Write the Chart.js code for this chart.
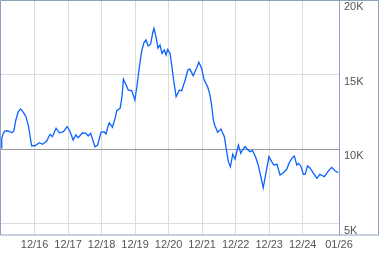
<!DOCTYPE html>
<html>
<head>
<meta charset="utf-8">
<script src="https://cdn.jsdelivr.net/npm/chart.js@4"></script>
<style>
html,body{margin:0;padding:0;background:#fff;}
#wrap{width:379px;height:255px;position:relative;}
</style>
</head>
<body>
<div id="wrap"><canvas id="c" width="379" height="255"></canvas></div>
<script>
// Time as decimal years (Dec 2015 .. Jan 2026)
const years = [
2015.92,2015.94,2015.99,2016.04,2016.13,2016.24,2016.30,2016.36,2016.43,2016.50,
2016.58,2016.66,2016.73,2016.78,2016.83,2016.93,2017.06,2017.16,2017.28,2017.38,
2017.45,2017.56,2017.66,2017.78,2017.89,2017.97,2018.07,2018.15,2018.22,2018.35,
2018.45,2018.52,2018.59,2018.72,2018.80,2018.90,2018.99,2019.05,2019.11,2019.15,
2019.24,2019.32,2019.37,2019.47,2019.52,2019.57,2019.65,2019.71,2019.82,2019.86,
2019.91,2019.97,2020.04,2020.11,2020.18,2020.24,2020.31,2020.38,2020.44,2020.48,
2020.54,2020.60,2020.66,2020.72,2020.79,2020.84,2020.89,2020.96,2021.01,2021.06,
2021.14,2021.24,2021.31,2021.41,2021.49,2021.55,2021.65,2021.75,2021.82,2021.90,
2021.98,2022.08,2022.15,2022.20,2022.25,2022.30,2022.38,2022.48,2022.58,2022.65,
2022.70,2022.76,2022.83,2022.90,2023.00,2023.07,2023.12,2023.20,2023.26,2023.34,
2023.42,2023.51,2023.59,2023.67,2023.74,2023.81,2023.91,2023.99,2024.06,2024.15,
2024.24,2024.34,2024.44,2024.52,2024.61,2024.67,2024.74,2024.79,2024.86,2024.94,
2024.99,2025.06,2025.14,2025.24,2025.34,2025.43,2025.56,2025.68,2025.78,2025.88,
2025.98
];
const values = [
10070,10740,11070,11210,11210,11090,11210,11950,12500,12690,
12480,12170,11610,10940,10220,10220,10420,10320,10540,10990,
10830,11390,11090,11160,11500,11210,10600,10940,10760,11090,
11050,10870,11050,10150,10270,11120,11160,11010,11540,11750,
11460,12060,12570,12730,13400,14680,14300,13960,13910,13630,
13290,14180,15420,16530,17130,17320,16910,17030,17770,18100,
17540,16760,16980,16420,16650,16310,16690,16420,15640,14750,
13510,13960,13910,14630,15300,15370,14920,15420,15820,15420,
14630,14180,13630,12950,11950,11560,11120,11340,10830,9820,
9150,8810,9650,9330,10270,9710,9930,10160,10000,9820,
9890,9480,8930,8140,7400,8260,9480,9150,8930,8970,
8260,8410,8640,9110,9420,9530,8930,9040,8860,8300,
8300,8860,8710,8370,8030,8300,8140,8520,8770,8540,
8410
];
const tickYears = [2016.917,2017.917,2018.917,2019.917,2020.917,2021.917,2022.917,2023.917,2024.917,2026.0];
const tickLabels = ["12/16","12/17","12/18","12/19","12/20","12/21","12/22","12/23","12/24","01/26"];
const yTicks = [5000,10000,15000,20000];
const yTickLabels = ["5K","10K","15K","20K"];
const xMin = 2015.917, xMax = 2026.0;
const yMin = 4230, yMax = 20000;

const points = years.map((t,i)=>({x:t,y:values[i]}));
const FRAME = '#8ea2c0';

const framePlugin = {
  id:'frame',
  afterDraw(chart){
    const ctx = chart.ctx, a = chart.chartArea;
    ctx.save();
    ctx.strokeStyle = FRAME;
    ctx.lineWidth = 1;
    ctx.beginPath();
    ctx.rect(0.5, 0.5, chart.width - 1, Math.round(a.bottom) - 0.5);
    ctx.moveTo(Math.round(a.right) + 0.5, 0);
    ctx.lineTo(Math.round(a.right) + 0.5, Math.round(a.bottom));
    ctx.stroke();
    ctx.restore();
  }
};

new Chart(document.getElementById('c'), {
  type:'line',
  data:{datasets:[{
    data:points,
    borderColor:'#0a62ff',
    borderWidth:1.3,
    pointRadius:0,
    tension:0,
    fill:false
  }]},
  options:{
    responsive:false,
    animation:false,
    events:[],
    layout:{padding:{left:1,top:0,right:0,bottom:0}},
    plugins:{legend:{display:false},tooltip:{enabled:false}},
    scales:{
      x:{
        type:'linear',
        min:xMin,max:xMax,
        afterBuildTicks(s){ s.ticks = tickYears.map(v=>({value:v})); },
        afterFit(s){ s.height = 20; s.paddingLeft = 0; s.paddingRight = 0; },
        grid:{color:'#dcdcdc',lineWidth:1,drawTicks:false},
        border:{display:false},
        ticks:{
          autoSkip:false,maxRotation:0,padding:3,
          color:'#555',font:{family:'"Liberation Sans", Arial, sans-serif',size:11},
          callback(v,i){ return tickLabels[i]; }
        }
      },
      y:{
        position:'right',
        min:yMin,max:yMax,
        afterBuildTicks(s){ s.ticks = yTicks.map(v=>({value:v})); },
        afterFit(s){ s.width = 40; s.paddingTop = 0; s.paddingBottom = 0; },
        grid:{
          color:(c)=> (c.tick && c.tick.value===10000) ? '#999999' : '#dcdcdc',
          lineWidth:1,drawTicks:false
        },
        border:{display:false},
        ticks:{
          padding:5,labelOffset:7,
          color:'#555',font:{family:'"Liberation Sans", Arial, sans-serif',size:11},
          callback(v,i){ return yTickLabels[i]; }
        }
      }
    }
  },
  plugins:[framePlugin]
});
</script>
</body>
</html>
